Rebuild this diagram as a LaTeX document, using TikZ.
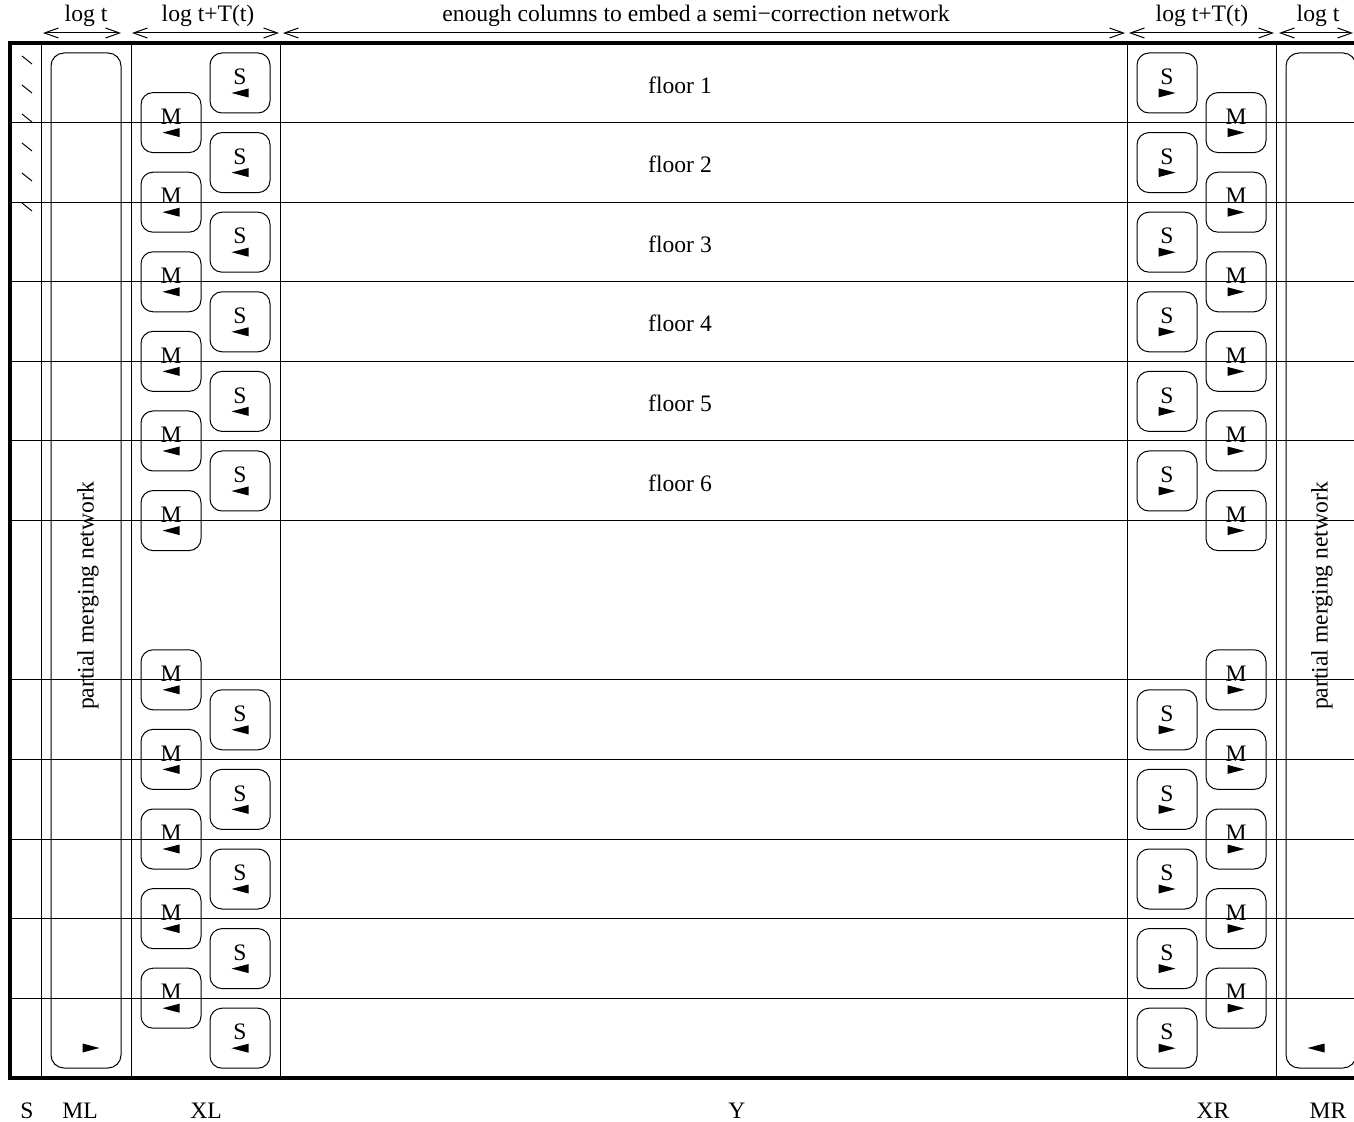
\documentclass[tikz,border=0pt]{standalone}
\usepackage{fontspec}
\setmainfont{Liberation Serif}
\usepackage{tikz}
\usetikzlibrary{arrows.meta}

\tikzset{
  lwedge/.pic={\fill (-8.5,0) -- (8.5,-4.5) -- (8.5,4.5) -- cycle;},
  rwedge/.pic={\fill (8.5,0) -- (-8.5,-4.5) -- (-8.5,4.5) -- cycle;},
}

\begin{document}
\begin{tikzpicture}[
    x=0.5pt, y=-0.5pt,
    every node/.style={inner sep=0pt, font=\fontsize{11.8}{14}\selectfont},
    cellbox/.style={draw, line width=0.5pt, rounded corners=6pt,
      minimum width=30pt, minimum height=30pt},
    mergebox/.style={draw, line width=0.5pt, rounded corners=6.5pt,
      minimum width=35pt, minimum height=507.5pt},
    dimarrow/.style={line width=0.5pt, {Straight Barb[length=7pt,width=5pt]}-{Straight Barb[length=7pt,width=5pt]}}
  ]
  \clip (0,0) rectangle (1354,1122);

  % grid
  \foreach \k in {2,...,7,9,10,...,13}
    \draw[line width=0.5pt] (10,{43+79.6*(\k-1)}) -- (1400,{43+79.6*(\k-1)});
  \foreach \xx in {41,131,280,1127,1276}
    \draw[line width=0.5pt] (\xx,43) -- (\xx,1078);
  \draw[line width=2pt] (10,43) rectangle (1400,1078);

  % S column ticks
  \foreach \t in {56,85,114,143,173,203}
    \draw[line width=0.5pt] (22,\t) -- (32,\t+8);

  % partial merging networks
  \node[mergebox] (ml) at (86,560.5) {};
  \node[mergebox] (mr) at (1321,560.5) {};
  \node[rotate=90] (mltext) at (88,596) {partial merging network};
  \node[rotate=90] (mrtext) at (1322,596) {partial merging network};
  \pic at (91,1048) {rwedge};
  \pic at (1316,1048) {lwedge};

  % S boxes
  \foreach \k in {1,2,3,4,5,6,9,10,11,12,13} {
    \node[cellbox] (sl\k) at (240,{83+79.6*(\k-1)}) {};
    \node (slt\k) at ([yshift=3pt]sl\k.center) {S};
    \pic at ([yshift=-5pt]sl\k.center) {lwedge};
    \node[cellbox] (sr\k) at (1167,{83+79.6*(\k-1)}) {};
    \node (srt\k) at ([yshift=3pt]sr\k.center) {S};
    \pic at ([yshift=-5pt]sr\k.center) {rwedge};
  }

  % M boxes
  \foreach \k in {2,...,7,9,10,...,13} {
    \node[cellbox] (mbl\k) at (171,{43+79.6*(\k-1)}) {};
    \node (mblt\k) at ([yshift=3pt]mbl\k.center) {M};
    \pic at ([yshift=-5pt]mbl\k.center) {lwedge};
    \node[cellbox] (mbr\k) at (1236,{43+79.6*(\k-1)}) {};
    \node (mbrt\k) at ([yshift=3pt]mbr\k.center) {M};
    \pic at ([yshift=-5pt]mbr\k.center) {rwedge};
  }

  % floors
  \foreach \k in {1,...,6}
    \node (floor\k) at (680,{85+79.6*(\k-1)}) {floor \k};

  % widths on top
  \coordinate (a0) at (43,33);   \coordinate (a1) at (121,33);
  \coordinate (b0) at (132,33);  \coordinate (b1) at (279,33);
  \coordinate (c0) at (283,33);  \coordinate (c1) at (1125,33);
  \coordinate (d0) at (1129,33); \coordinate (d1) at (1274,33);
  \coordinate (e0) at (1279,33); \coordinate (e1) at (1353,33);
  \draw[dimarrow] (a0) -- (a1);
  \draw[dimarrow] (b0) -- (b1);
  \draw[dimarrow] (c0) -- (c1);
  \draw[dimarrow] (d0) -- (d1);
  \draw[dimarrow] (e0) -- (e1);
  \node (wml) at (86,16) {log t};
  \node (wxl) at (208,16) {log t+T(t)};
  \node (wy) at (696,16) {enough columns to embed a semi−correction network};
  \node (wxr) at (1202,16) {log t+T(t)};
  \node (wmr) at (1318,16) {log t};

  % column names
  \node (cs) at (27,1111) {S};
  \node (cml) at (80,1111) {ML};
  \node (cxl) at (206,1111) {XL};
  \node (cy) at (737,1111) {Y};
  \node (cxr) at (1213,1111) {XR};
  \node (cmr) at (1328,1111) {MR};
\end{tikzpicture}
\end{document}
